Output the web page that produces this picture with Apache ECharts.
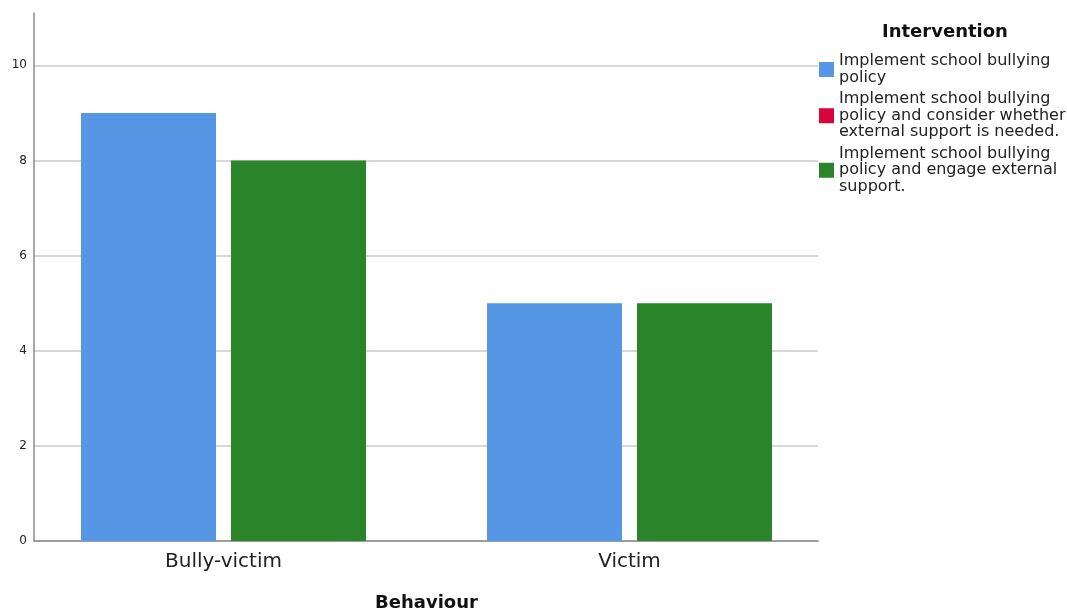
<!DOCTYPE html>
<html>
<head>
<meta charset="utf-8">
<script src="https://cdn.jsdelivr.net/npm/echarts@6/dist/echarts.min.js"></script>
<style>
  html, body { margin: 0; padding: 0; background: #fff; }
  #chart { width: 1067px; height: 612px; }
</style>
</head>
<body>
<div id="chart"></div>
<script>
const categories = ['Bully-victim', 'Victim']
const seriesNames = [
  'Implement school bullying policy',
  'Implement school bullying policy and consider whether external support is needed.',
  'Implement school bullying policy and engage external support.'
]
const legendLines = [
  'Implement school bullying\npolicy',
  'Implement school bullying\npolicy and consider whether\nexternal support is needed.',
  'Implement school bullying\npolicy and engage external\nsupport.'
]
const schoolPolicy = [9, 5]
const considerSupport = [null, null]
const engageSupport = [8, 5]
const yTicks = { min: 0, max: 11.1, interval: 2 }

const font = 'DejaVu Sans'
const colors = ['#5596e5', '#d8043c', '#2a852a']

const chart = echarts.init(document.getElementById('chart'))
chart.setOption({
  animation: false,
  textStyle: { fontFamily: font },
  title: {
    text: 'Intervention',
    left: 877,
    top: 18,
    textStyle: { fontSize: 18, fontWeight: 'bold', color: '#111', fontFamily: font }
  },
  legend: {
    orient: 'vertical',
    left: 814,
    top: 48,
    itemWidth: 15,
    itemHeight: 15,
    itemGap: 5,
    icon: 'rect',
    data: seriesNames,
    formatter: (name) => legendLines[seriesNames.indexOf(name)],
    textStyle: { fontSize: 16, lineHeight: 16.5, color: '#222', fontFamily: font }
  },
  grid: [
    { left: 34, right: 249, top: 13, bottom: 71, outerBoundsMode: 'none' },
    { left: 20.5, right: 234.5, top: 13, bottom: 71, outerBoundsMode: 'none' }
  ],
  xAxis: [
    {
      type: 'category',
      gridIndex: 0,
      data: categories,
      axisLine: { lineStyle: { color: '#8a8a8a', width: 1.5 } },
      axisTick: { show: false },
      axisLabel: { show: false }
    },
    {
      type: 'category',
      gridIndex: 1,
      data: categories,
      axisLine: { show: false },
      axisTick: { show: false },
      axisLabel: { fontSize: 20, color: '#222', margin: 11, fontFamily: font },
      name: 'Behaviour',
      nameLocation: 'middle',
      nameGap: 53,
      nameTextStyle: { fontSize: 18, fontWeight: 'bold', color: '#111', fontFamily: font }
    }
  ],
  yAxis: [
    {
      type: 'value',
      gridIndex: 0,
      min: yTicks.min,
      max: yTicks.max,
      interval: yTicks.interval,
      axisLine: { show: true, lineStyle: { color: '#8a8a8a', width: 1.5 } },
      axisTick: { show: false },
      axisLabel: { fontSize: 12, color: '#222', margin: 7, fontFamily: font, showMaxLabel: false },
      splitLine: { showMaxLine: false, lineStyle: { color: '#cacaca', width: 1.5 } }
    },
    {
      type: 'value',
      gridIndex: 1,
      min: yTicks.min,
      max: yTicks.max,
      interval: yTicks.interval,
      show: false,
      splitLine: { show: false }
    }
  ],
  series: [
    {
      name: seriesNames[0],
      type: 'bar',
      xAxisIndex: 1,
      yAxisIndex: 1,
      data: schoolPolicy,
      barWidth: 135,
      barGap: '11.1%',
      itemStyle: { color: colors[0] }
    },
    {
      name: seriesNames[1],
      type: 'bar',
      xAxisIndex: 0,
      yAxisIndex: 0,
      data: considerSupport,
      itemStyle: { color: colors[1] }
    },
    {
      name: seriesNames[2],
      type: 'bar',
      xAxisIndex: 1,
      yAxisIndex: 1,
      data: engageSupport,
      barWidth: 135,
      barGap: '11.1%',
      itemStyle: { color: colors[2] }
    }
  ]
})
</script>
</body>
</html>
